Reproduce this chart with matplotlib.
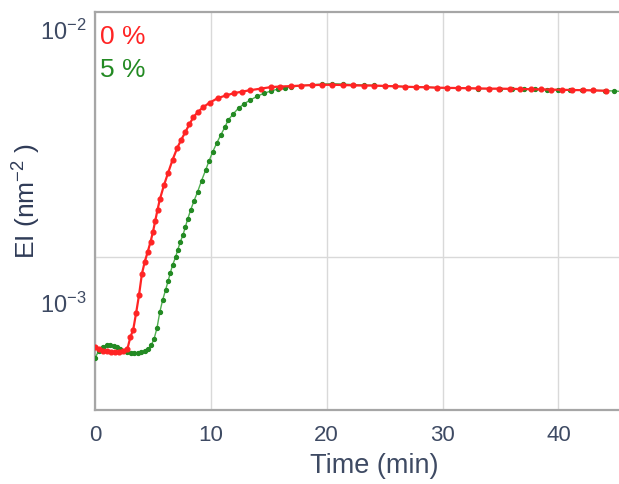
import matplotlib
matplotlib.use("Agg")
import matplotlib.pyplot as plt

plt.rcParams['font.family'] = ['Liberation Sans', 'DejaVu Sans']
plt.rcParams['mathtext.fontset'] = 'custom'
plt.rcParams['mathtext.rm'] = 'Liberation Sans'
plt.rcParams['mathtext.it'] = 'Liberation Sans:italic'

# 0 % series (time in min, EI in 1e-3 nm^-2)
t_0 = [0.0, 0.35, 0.7, 1.05, 1.4, 1.75, 2.1, 2.45, 2.8, 3.05, 3.3, 3.55, 3.8,
       4.05, 4.3, 4.55, 4.8, 5.0, 5.2, 5.4, 5.6, 5.95, 6.3, 6.7, 7.1, 7.45,
       7.8, 8.15, 8.5, 8.9, 9.35, 9.9, 10.6, 11.3, 12.0, 12.7, 13.4, 14.3,
       15.2, 16.0, 16.9, 17.8, 18.7, 19.6, 20.5, 21.4, 22.3, 23.2, 24.1, 25.0,
       25.9, 26.8, 27.7, 28.6, 29.5, 30.4, 31.3, 32.2, 33.1, 34.0, 34.9, 35.8,
       36.7, 37.6, 38.5, 39.4, 40.3, 41.2, 42.1, 43.0, 44.1]
ei_0 = [0.69, 0.68, 0.67, 0.665, 0.66, 0.66, 0.66, 0.665, 0.68, 0.75, 0.80,
        0.92, 1.07, 1.28, 1.42, 1.54, 1.68, 1.82, 2.00, 2.20, 2.40, 2.70,
        2.99, 3.35, 3.70, 3.97, 4.23, 4.52, 4.80, 5.02, 5.22, 5.42, 5.63,
        5.76, 5.87, 5.95, 6.02, 6.10, 6.18, 6.21, 6.23, 6.26, 6.28, 6.30,
        6.30, 6.29, 6.27, 6.26, 6.26, 6.24, 6.22, 6.20, 6.18, 6.17, 6.15,
        6.14, 6.13, 6.12, 6.11, 6.10, 6.10, 6.09, 6.08, 6.07, 6.06, 6.05,
        6.04, 6.03, 6.02, 6.01, 5.99]

# 5 % series
t_5 = [0.0, 0.35, 0.7, 1.0, 1.3, 1.6, 1.9, 2.2, 2.5, 2.8, 3.1, 3.4, 3.7, 4.0,
       4.3, 4.6, 4.85, 5.1, 5.35, 5.6, 5.85, 6.1, 6.3, 6.5, 6.7, 6.95, 7.15,
       7.35, 7.6, 7.8, 8.0, 8.25, 8.55, 8.85, 9.2, 9.55, 9.85, 10.15, 10.5,
       10.85, 11.2, 11.5, 11.95, 12.4, 12.9, 13.4, 14.0, 14.6, 15.2, 15.8,
       16.4, 16.9, 17.8, 18.7, 19.6, 20.5, 21.4, 22.3, 23.2, 24.1, 25.0, 25.9,
       26.8, 27.7, 28.6, 29.5, 30.4, 31.3, 32.2, 33.1, 34.0, 35.0, 36.0, 37.0,
       38.0, 39.0, 40.0, 41.0, 42.0, 43.0, 44.0, 44.8, 45.6]
ei_5 = [0.63, 0.67, 0.69, 0.70, 0.70, 0.695, 0.69, 0.68, 0.67, 0.66, 0.655,
        0.655, 0.655, 0.66, 0.665, 0.68, 0.70, 0.74, 0.81, 0.93, 1.03, 1.12,
        1.20, 1.29, 1.38, 1.47, 1.57, 1.67, 1.78, 1.90, 2.03, 2.19, 2.37,
        2.55, 2.81, 3.07, 3.32, 3.57, 3.85, 4.12, 4.40, 4.68, 4.94, 5.18,
        5.38, 5.54, 5.72, 5.87, 5.98, 6.08, 6.14, 6.18, 6.25, 6.30, 6.34,
        6.36, 6.34, 6.31, 6.29, 6.27, 6.22, 6.24, 6.20, 6.17, 6.18, 6.15,
        6.14, 6.12, 6.12, 6.10, 6.10, 6.09, 6.08, 6.07, 6.06, 6.05, 6.04,
        6.03, 6.02, 6.01, 6.00, 5.98, 5.95]

xticks = [0, 10, 20, 30, 40]
yticks = [1e-3, 1e-2]
ytick_labels = [r'$10^{-3}$', r'$10^{-2}$']

txt = '#3e4a63'
red = '#ff2424'
green = '#238a23'

fig = plt.figure(figsize=(6.19, 4.84), dpi=100)
ax = fig.add_axes([95 / 619, 74 / 484, 1 - 95 / 619 + 0.02, 398 / 484])

ax.plot(t_5, [v * 1e-3 for v in ei_5], color='#4fae4f', lw=1.0,
        marker='o', ms=2.8, mfc=green, mec=green, zorder=3)
ax.plot(t_0, [v * 1e-3 for v in ei_0], color=red, lw=1.6,
        marker='o', ms=3.4, mfc=red, mec=red, zorder=4)

ax.set_yscale('log')
ax.set_xlim(0, 46.3)
ax.set_ylim(4.06e-4, 1.164e-2)
ax.set_xticks(xticks)
ax.set_yticks(yticks)
ax.set_yticklabels(ytick_labels)
ax.yaxis.set_minor_locator(matplotlib.ticker.NullLocator())
ax.tick_params(axis='x', length=0, pad=11, labelsize=16, labelcolor=txt)
ax.tick_params(axis='y', length=0, pad=6, labelsize=17, labelcolor=txt)

ax.grid(axis='x', color='#d9d9d9', lw=1.0)
ax.axhline(1.47e-3, color='#d9d9d9', lw=1.0, zorder=0)
ax.set_axisbelow(True)

for side in ['left', 'bottom', 'top']:
    ax.spines[side].set_color('#a6a6a6')
    ax.spines[side].set_linewidth(1.6)
ax.spines['right'].set_visible(False)

fig.text(100 / 619, 1 - 37 / 484, '0 %', color=red, fontsize=19,
         ha='left', va='center')
fig.text(100 / 619, 1 - 70 / 484, '5 %', color=green, fontsize=19,
         ha='left', va='center')

fig.text(374 / 619, 1 - 466 / 484, 'Time (min)', color=txt, fontsize=19.5,
         ha='center', va='center')
fig.text(27 / 619, 1 - 201 / 484, r'EI (nm$^{-2}$ )', color='#2f3b57',
         fontsize=19, rotation=90, ha='center', va='center')

fig.savefig('out.png', dpi=100)
